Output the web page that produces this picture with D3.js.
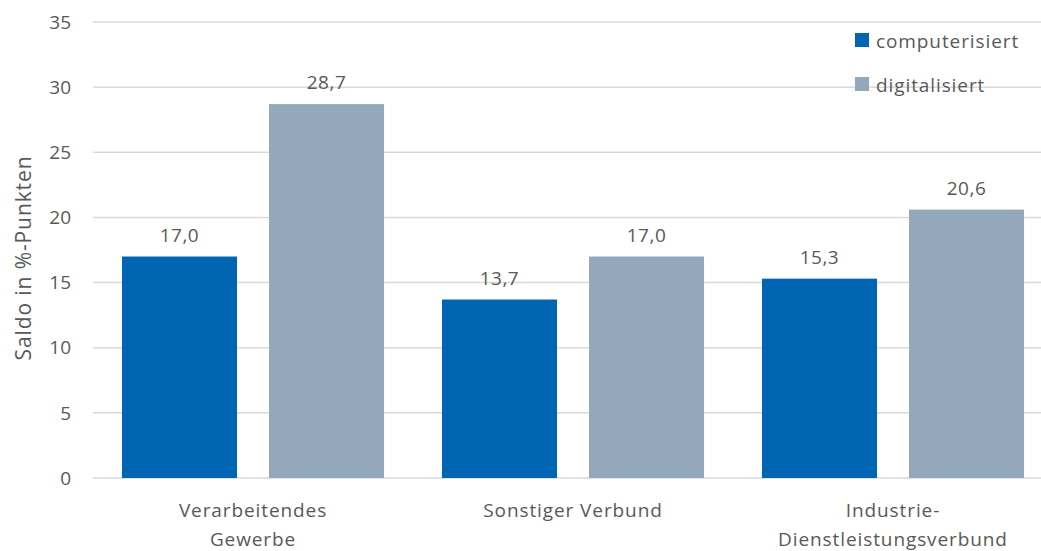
<!DOCTYPE html>
<html>
<head>
<meta charset="utf-8">
<script src="https://cdn.jsdelivr.net/npm/d3@7"></script>
<style>
  body { margin: 0; background: #fff; }
  text { font-family: "Open Sans", "Noto Sans", sans-serif; fill: #595959; }
</style>
</head>
<body>
<div id="chart"></div>
<script>
// data
const categories = [["Verarbeitendes", "Gewerbe"], ["Sonstiger Verbund"], ["Industrie-", "Dienstleistungsverbund"]];
const seriesNames = ["computerisiert", "digitalisiert"];
const computerisiert = [17.0, 13.7, 15.3];
const digitalisiert = [28.7, 17.0, 20.6];
const yTicks = [0, 5, 10, 15, 20, 25, 30, 35];
const colors = ["#0066b3", "#94a8bc"];

const width = 1041, height = 551;
const svg = d3.select("#chart").append("svg")
  .attr("width", width).attr("height", height);

const x0 = d3.scaleBand()
  .domain(d3.range(categories.length))
  .range([93, 1053]);

const x1 = d3.scaleBand()
  .domain(seriesNames)
  .range([0, x0.bandwidth()])
  .paddingInner(0.2177)
  .paddingOuter(0.197);

const y = d3.scaleLinear()
  .domain([0, 35])
  .range([478, 22]);

// gridlines
svg.append("g").selectAll("line")
  .data(yTicks)
  .join("line")
  .attr("x1", 93).attr("x2", width)
  .attr("y1", d => y(d)).attr("y2", d => y(d))
  .attr("stroke", "#d9d9d9")
  .attr("stroke-width", 1.5);

// y tick labels
svg.append("g").selectAll("text")
  .data(yTicks)
  .join("text")
  .attr("x", 71)
  .attr("y", d => y(d))
  .attr("dy", "0.35em")
  .attr("text-anchor", "end")
  .style("font-size", "19px")
  .text(d => d);

// y axis title
svg.append("text")
  .attr("transform", "translate(31,258) rotate(-90)")
  .attr("text-anchor", "middle")
  .style("font-size", "21px")
  .style("letter-spacing", "0.9px")
  .text("Saldo in %-Punkten");

const rows = categories.map((c, i) => ({
  i: i,
  vals: [computerisiert[i], digitalisiert[i]]
}));

const groups = svg.append("g").selectAll("g")
  .data(rows)
  .join("g")
  .attr("transform", d => `translate(${x0(d.i)},0)`);

groups.selectAll("rect")
  .data(d => d.vals.map((v, k) => ({ k: k, v: v })))
  .join("rect")
  .attr("x", d => x1(seriesNames[d.k]))
  .attr("width", x1.bandwidth())
  .attr("y", d => y(d.v))
  .attr("height", d => y(0) - y(d.v))
  .attr("fill", d => colors[d.k]);

groups.selectAll("text.val")
  .data(d => d.vals.map((v, k) => ({ k: k, v: v })))
  .join("text")
  .attr("class", "val")
  .attr("x", d => x1(seriesNames[d.k]) + x1.bandwidth() / 2)
  .attr("y", d => y(d.v) - 15)
  .attr("text-anchor", "middle")
  .style("font-size", "19px")
  .style("letter-spacing", "0.5px")
  .text(d => d.v.toFixed(1).replace(".", ","));

// category labels
groups.append("text")
  .attr("x", x0.bandwidth() / 2)
  .attr("y", 517)
  .attr("text-anchor", "middle")
  .style("font-size", "19px")
  .style("letter-spacing", "0.9px")
  .selectAll("tspan")
  .data(d => categories[d.i])
  .join("tspan")
  .attr("x", x0.bandwidth() / 2)
  .attr("dy", (d, k) => k === 0 ? 0 : 29)
  .text(d => d);

// legend
const legend = svg.append("g").attr("transform", "translate(855,33)");
const li = legend.selectAll("g")
  .data(seriesNames)
  .join("g")
  .attr("transform", (d, k) => `translate(0,${k * 44})`);
li.append("rect")
  .attr("width", 14).attr("height", 14)
  .attr("fill", (d, k) => colors[k]);
li.append("text")
  .attr("x", 21).attr("y", 8)
  .attr("dy", "0.35em")
  .style("font-size", "19px")
  .style("letter-spacing", "0.9px")
  .text(d => d);
</script>
</body>
</html>
